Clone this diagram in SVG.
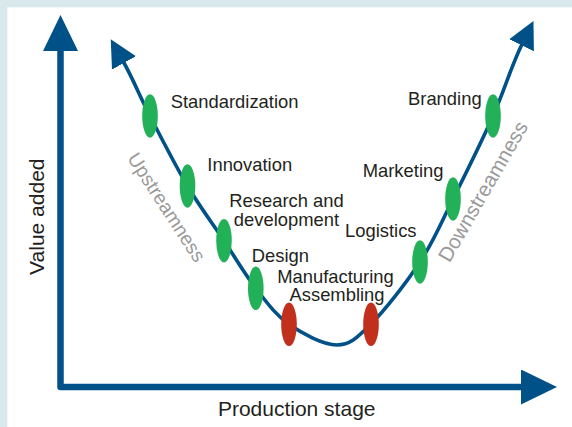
<svg xmlns="http://www.w3.org/2000/svg" width="572" height="427" viewBox="0 0 572 427">
  <style>
    .lbl { font-family: "Liberation Sans", Arial, sans-serif; font-size: 18.4px; fill: #231f20; }
    .axl { font-family: "Liberation Sans", Arial, sans-serif; font-size: 21px; fill: #231f20; }
    .side { font-family: "Liberation Sans", Arial, sans-serif; font-size: 19.5px; fill: #9a9a9a; }
    .g { fill: #22b058; }
    .r { fill: #c1301c; }
    .axis { fill: none; stroke: #005188; stroke-width: 6.5; stroke-linejoin: round; }
    .curve { fill: none; stroke: #005188; stroke-width: 3.6; }
  </style>
  <defs>
    <marker id="axisArrow" viewBox="0 0 36 35" refX="1" refY="17.5" markerWidth="36" markerHeight="35" markerUnits="userSpaceOnUse" orient="auto-start-reverse">
      <path d="M0,0 L36,17.5 L0,35 Z" fill="#005188"/>
    </marker>
    <marker id="curveArrow" viewBox="0 0 27 27.5" refX="1" refY="13.75" markerWidth="27" markerHeight="27.5" markerUnits="userSpaceOnUse" orient="auto-start-reverse">
      <path d="M0,0 L27,13.75 L0,27.5 Z" fill="#005188"/>
    </marker>
  </defs>

  <rect x="0" y="0" width="572" height="427" fill="#d8e8ed"/>
  <rect x="7.3" y="7.3" width="565" height="420" fill="#ffffff"/>

  <g id="connectors">
    <path class="axis" d="M60.5,50 V387 H522" marker-start="url(#axisArrow)" marker-end="url(#axisArrow)"/>
    <path class="curve" d="M123.5,62 C133.5,79.8 139.3,95.3 150,116 C160.7,136.7 175.2,165.2 187.5,186 C199.8,206.8 212.6,223.6 224,240.7 C235.4,257.8 245,274.4 255.8,288.3 C266.6,302.2 275.5,314.9 289,324.3 C302.5,333.7 323,345 336.7,345 C350.4,345 357.1,337.8 371,324 C384.9,310.3 406.3,282.8 420,262 C433.7,241.2 440.8,223.3 453,199 C465.2,174.7 481.5,141.8 493,116 C504.5,90.2 511,66.7 522,44.3" marker-start="url(#curveArrow)" marker-end="url(#curveArrow)"/>
  </g>

  <text class="axl" transform="translate(43.5,216.7) rotate(-90)" text-anchor="middle">Value added</text>
  <text class="axl" x="296.7" y="416" text-anchor="middle">Production stage</text>

  <text class="side" transform="translate(161,211) rotate(57)" text-anchor="middle">Upstreamness</text>
  <text class="side" transform="translate(489,195) rotate(-60)" text-anchor="middle" style="font-size:20.5px">Downstreamness</text>

  <g id="standardization">
    <ellipse class="g" cx="150" cy="116" rx="7.8" ry="21.7"/>
    <text class="lbl" x="170.7" y="108.3">Standardization</text>
  </g>
  <g id="innovation">
    <ellipse class="g" cx="187.5" cy="186" rx="7.8" ry="21.7"/>
    <text class="lbl" x="207.3" y="170.7">Innovation</text>
  </g>
  <g id="research">
    <ellipse class="g" cx="224" cy="240.7" rx="7.8" ry="21.7"/>
    <text class="lbl" x="286.5" y="207" text-anchor="middle">Research and</text>
    <text class="lbl" x="286.5" y="225.5" text-anchor="middle">development</text>
  </g>
  <g id="design">
    <ellipse class="g" cx="255.8" cy="288.3" rx="7.8" ry="21.7"/>
    <text class="lbl" x="251.7" y="262">Design</text>
  </g>
  <g id="manufacturing">
    <ellipse class="r" cx="289" cy="324.3" rx="7.8" ry="21.7"/>
    <text class="lbl" x="335.5" y="283" text-anchor="middle">Manufacturing</text>
  </g>
  <g id="assembling">
    <ellipse class="r" cx="371" cy="324.3" rx="7.8" ry="21.7"/>
    <text class="lbl" x="337" y="300.5" text-anchor="middle">Assembling</text>
  </g>
  <g id="logistics">
    <ellipse class="g" cx="420" cy="262" rx="7.8" ry="21.7"/>
    <text class="lbl" x="345" y="236.5">Logistics</text>
  </g>
  <g id="marketing">
    <ellipse class="g" cx="453" cy="199" rx="7.8" ry="21.7"/>
    <text class="lbl" x="362.7" y="176.7">Marketing</text>
  </g>
  <g id="branding">
    <ellipse class="g" cx="493" cy="116" rx="7.8" ry="21.7"/>
    <text class="lbl" x="408" y="105">Branding</text>
  </g>
</svg>
